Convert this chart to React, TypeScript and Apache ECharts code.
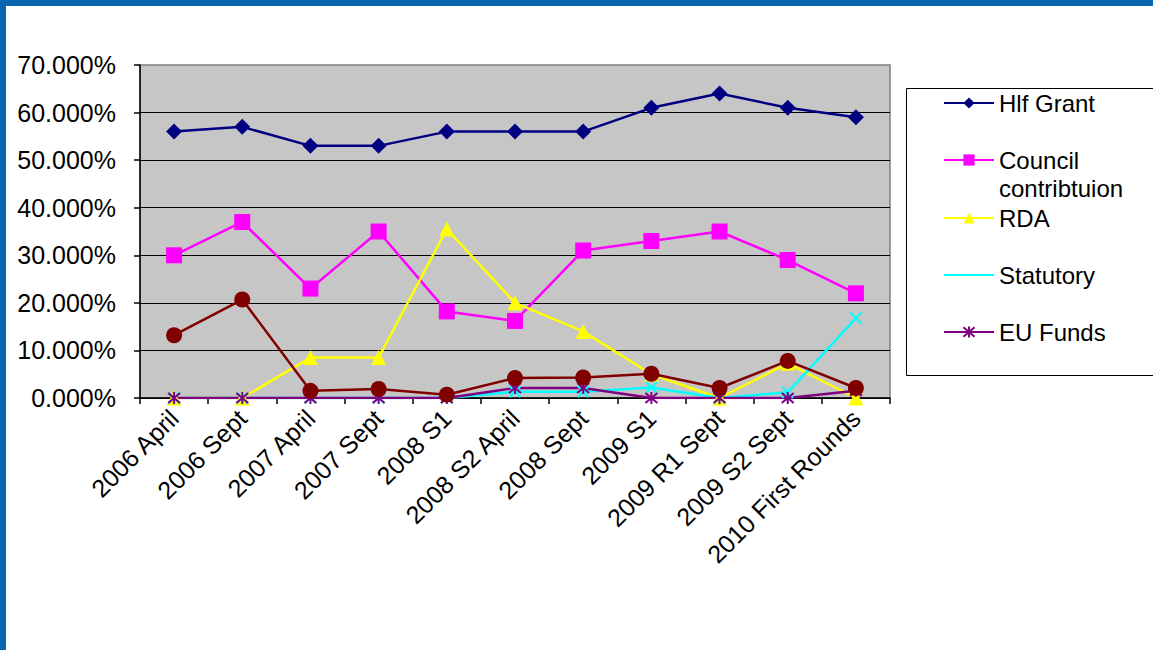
import React, { useEffect, useRef } from "react";
import * as echarts from "echarts";

const categories = [
  "2006 April",
  "2006 Sept",
  "2007 April",
  "2007 Sept",
  "2008 S1",
  "2008 S2 April",
  "2008 Sept",
  "2009 S1",
  "2009 R1 Sept",
  "2009 S2 Sept",
  "2010 First Rounds",
];

const hlfGrant = [56, 57, 53, 53, 56, 56, 56, 61, 64, 61, 59];
const council = [30, 37, 23, 35, 18.2, 16.2, 31, 33, 35, 29, 22];
const rda = [0, 0, 8.5, 8.5, 35.5, 20, 14, 5, 0, 7.3, 0];
const statutory = [0, 0, 0, 0, 0, 1.3, 1.3, 2.2, 0, 1.2, 16.8];
const euFunds = [0, 0, 0, 0, 0, 2.1, 2.1, 0, 0, 0, 1.5];
const other = [13.2, 20.7, 1.5, 1.9, 0.7, 4.2, 4.3, 5.1, 2.1, 7.8, 2.1];

const yTicks = [0, 10, 20, 30, 40, 50, 60, 70];

const FONT = "'Liberation Sans', Arial, sans-serif";
const X_SYMBOL = "path://M0,0L10,10M10,0L0,10";
const STAR_SYMBOL = "path://M0,0L10,10M10,0L0,10M5,-1L5,11";

export default function App() {
  const ref = useRef<HTMLDivElement>(null);

  useEffect(() => {
    if (!ref.current) return;
    const chart = echarts.init(ref.current, null, { renderer: "svg" });

    const legendItem = (name: string, top: number, extra: any = {}) => ({
      data: [name],
      orient: "vertical",
      left: 943,
      top,
      padding: 0,
      itemWidth: 50,
      itemHeight: 14,
      selectedMode: false,
      z: 10,
      textStyle: {
        fontFamily: FONT,
        fontSize: 24,
        lineHeight: 28,
        color: "#000",
      },
      ...extra,
    });

    const lineSeries = (
      name: string,
      data: number[],
      color: string,
      symbol: string,
      symbolSize: number,
      extraItem: any = {}
    ) => ({
      name,
      type: "line",
      data,
      symbol,
      symbolSize,
      showSymbol: true,
      lineStyle: { color, width: 2.5 },
      itemStyle: { color, ...extraItem },
      emphasis: { disabled: true },
    });

    chart.setOption({
      animation: false,
      backgroundColor: "#ffffff",
      textStyle: { fontFamily: FONT },
      graphic: [
        {
          type: "rect",
          z: 1,
          shape: { x: 906.5, y: 88.5, width: 300, height: 287 },
          style: { fill: "#ffffff", stroke: "#000000", lineWidth: 1 },
        },
        {
          type: "rect",
          z: 20,
          shape: { x: 0, y: 0, width: 1153, height: 6 },
          style: { fill: "#0664B0" },
        },
        {
          type: "rect",
          z: 20,
          shape: { x: 0, y: 0, width: 6, height: 650 },
          style: { fill: "#0664B0" },
        },
      ],
      grid: {
        left: 140,
        right: 263,
        top: 65,
        bottom: 252,
        show: true,
        backgroundColor: "#C6C6C6",
        borderColor: "#808080",
        borderWidth: 1.5,
        containLabel: false,
      },
      legend: [
        legendItem("Hlf Grant", 89),
        legendItem("Council contribtuion", 118, {
          formatter: () => " \nCouncil\ncontribtuion",
        }),
        legendItem("RDA", 204),
        legendItem("Statutory", 261, { itemStyle: { borderWidth: 0 } }),
        legendItem("EU Funds", 318),
      ],
      xAxis: {
        type: "category",
        data: categories,
        boundaryGap: true,
        axisLine: { show: true, lineStyle: { color: "#000", width: 1.5 } },
        axisTick: {
          show: true,
          alignWithLabel: false,
          length: 6,
          lineStyle: { color: "#000", width: 1.5 },
        },
        axisLabel: {
          interval: 0,
          rotate: 45,
          margin: 16,
          fontSize: 25,
          fontFamily: FONT,
          color: "#000",
        },
        splitLine: { show: false },
      },
      yAxis: {
        type: "value",
        min: yTicks[0],
        max: yTicks[yTicks.length - 1],
        interval: 10,
        axisLine: { show: true, lineStyle: { color: "#000", width: 1.5 } },
        axisTick: {
          show: true,
          length: 6,
          lineStyle: { color: "#000", width: 1.5 },
        },
        axisLabel: {
          margin: 24,
          fontSize: 25,
          fontFamily: FONT,
          color: "#000",
          formatter: (v: number) => v.toFixed(3) + "%",
        },
        splitLine: {
          show: true,
          showMaxLine: false,
          lineStyle: { color: "#000", width: 1.2 },
        },
      },
      series: [
        lineSeries("Hlf Grant", hlfGrant, "#000080", "diamond", 16),
        lineSeries("Council contribtuion", council, "#FF00FF", "rect", 16),
        lineSeries("RDA", rda, "#FFFF00", "triangle", 15),
        lineSeries("Statutory", statutory, "#00FFFF", X_SYMBOL, 11, {
          borderColor: "#00FFFF",
          borderWidth: 2,
        }),
        lineSeries("EU Funds", euFunds, "#800080", STAR_SYMBOL, 12, {
          borderColor: "#800080",
          borderWidth: 2,
        }),
        lineSeries("Other", other, "#800000", "circle", 16),
      ],
    });

    return () => chart.dispose();
  }, []);

  return (
    <div
      ref={ref}
      style={{
        position: "fixed",
        left: 0,
        top: 0,
        width: 1153,
        height: 650,
      }}
    />
  );
}
